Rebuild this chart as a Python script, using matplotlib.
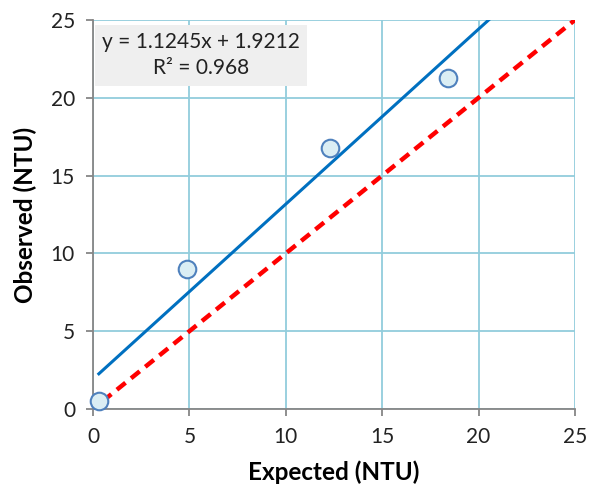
import matplotlib
matplotlib.use("Agg")
import matplotlib.pyplot as plt
import numpy as np

# measured turbidity
expected = [0.3, 4.9, 12.3, 18.4]
observed = [0.5, 9.0, 16.8, 21.3]
slope, intercept = 1.1245, 1.9212
r2 = 0.968
ticks = [0, 5, 10, 15, 20, 25]

plt.rcParams['font.family'] = ['Lato', 'DejaVu Sans']

fig = plt.figure(figsize=(5.89, 4.88), dpi=100)
ax = fig.add_axes([0.158, 0.162, 0.818, 0.797])

ax.set_xlim(0, 25)
ax.set_ylim(0, 25)
ax.set_xticks(ticks)
ax.set_yticks(ticks)
ax.grid(True, color='#92cddc', linewidth=1.3)
ax.set_axisbelow(True)

# 1:1 line
ax.plot([0.5, 25], [0.5, 25], color='#ff0000', linewidth=3.2,
        dashes=(2.5, 1.6), zorder=2)

# linear trend
xf = np.array([min(expected), 25])
ax.plot(xf, slope * xf + intercept, color='#0070c0', linewidth=2.2, zorder=3)

ax.scatter(expected, observed, s=160, facecolor='#dbeef4', edgecolor='#4f81bd',
           linewidth=1.5, zorder=4, clip_on=False)

for s in ['top', 'right']:
    ax.spines[s].set_visible(False)
for s in ['left', 'bottom']:
    ax.spines[s].set_color('#868686')
    ax.spines[s].set_linewidth(1.3)
ax.tick_params(colors='#868686', labelcolor='#222222', labelsize=15,
               length=5, width=1.3, direction='out', pad=8)

ax.set_xlabel('Expected (NTU)', fontsize=17.5, fontweight='bold', labelpad=10)
ax.set_ylabel('Observed (NTU)', fontsize=17.5, fontweight='bold', labelpad=10)

ax.text(5.6, 22.75, f'y = {slope}x + {intercept}\nR² = {r2}', ha='center',
        va='center', fontsize=15, color='#222222', linespacing=1.4,
        bbox=dict(boxstyle='square,pad=0.35', facecolor='#efefef',
                  edgecolor='none'), zorder=5)

fig.savefig('out.png', dpi=100)
